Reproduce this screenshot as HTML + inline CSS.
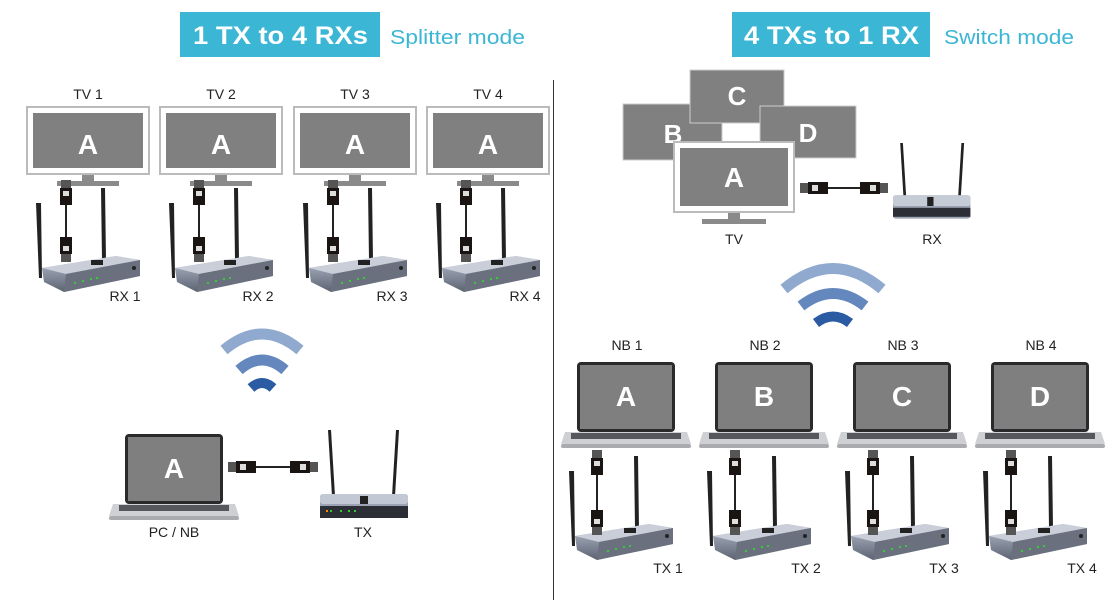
<!DOCTYPE html>
<html><head><meta charset="utf-8"><style>
body{margin:0;width:1110px;height:600px;background:#fff;overflow:hidden;font-family:"Liberation Sans",sans-serif}
svg text{font-family:"Liberation Sans",sans-serif}
</style></head><body>
<svg width="1110" height="600" viewBox="0 0 1110 600" xmlns="http://www.w3.org/2000/svg">
<defs>
<linearGradient id="rb" x1="0" y1="0" x2="0" y2="1"><stop offset="0" stop-color="#b8bfcc"/><stop offset="0.5" stop-color="#8a92a2"/><stop offset="1" stop-color="#5c6270"/></linearGradient>
<g id="plugV"><rect x="-5" y="0" width="10" height="8" fill="#555"/><rect x="-6" y="8" width="12" height="17" fill="#1a1412"/><rect x="-3" y="11" width="6" height="5" fill="#ddd"/></g>
<g id="plugH"><rect x="0" y="-5" width="8" height="10" fill="#555"/><rect x="8" y="-6" width="20" height="12" fill="#1a1412"/><rect x="12" y="-3" width="6" height="6" fill="#ddd"/></g>
<g id="router">
<path d="M0 5 L3 80 L6 80 L5 5 Z" fill="#222"/>
<path d="M65 -10 L66 62 L70 62 L69 -10 Z" fill="#222"/>
<path d="M6 70 L80 58 L104 62 L104 78 L28 94 L8 84 Z" fill="url(#rb)"/>
<path d="M6 70 L80 58 L104 62 L30 76 Z" fill="#c9ced8"/>
<path d="M30 76 L104 62 L104 78 L28 94 Z" fill="#6a707e"/>
<rect x="55" y="62" width="12" height="5" fill="#222"/>
<g fill="#3c3"><rect x="38" y="84" width="2" height="2"/><rect x="46" y="82" width="2" height="2"/><rect x="54" y="80" width="2" height="2"/><rect x="60" y="79" width="2" height="2"/></g>
<circle cx="98" cy="70" r="2" fill="#222"/>
</g>
<g id="frouter">
<path d="M8 0 L12 66 L15 66 L11 0 Z" fill="#222"/>
<path d="M76 0 L72 66 L75 66 L79 0 Z" fill="#222"/>
<rect x="0" y="64" width="88" height="24" rx="3" fill="#9ca4b4"/>
<rect x="0" y="64" width="88" height="10" rx="3" fill="#c3c9d4"/>
<rect x="0" y="76" width="88" height="12" fill="#2c2f36"/>
<rect x="40" y="66" width="8" height="8" fill="#222"/>
<g fill="#3c3"><rect x="10" y="80" width="2" height="2"/><rect x="20" y="80" width="2" height="2"/><rect x="28" y="80" width="2" height="2"/><rect x="34" y="80" width="2" height="2"/></g>
<rect x="6" y="80" width="2" height="2" fill="#f80"/>
</g>
<g id="tv">
<rect x="0" y="0" width="122" height="67" fill="#fff" stroke="#bbb" stroke-width="2"/>
<rect x="6" y="6" width="110" height="55" fill="#808080"/>
<rect x="55" y="68" width="12" height="6" fill="#8a8a8a"/>
<rect x="30" y="74" width="62" height="5" fill="#8a8a8a"/>
</g>
<g id="laptop">
<rect x="0" y="0" width="98" height="70" rx="4" fill="#2a2a2c"/>
<rect x="3" y="3" width="92" height="64" fill="#7f7f7f"/>
<path d="M-12 70 L110 70 L114 82 L-16 82 Z" fill="#cfd0d3"/>
<rect x="-6" y="71" width="110" height="6" fill="#55575c"/>
<rect x="-16" y="82" width="130" height="4" rx="2" fill="#a9abaf"/>
</g>
</defs>

<rect x="180" y="12" width="200" height="45" fill="#3bb6d5"/>
<text x="193" y="44" fill="#fff" font-size="25" font-weight="bold" textLength="175" lengthAdjust="spacingAndGlyphs">1 TX to 4 RXs</text>
<text x="390" y="44" fill="#3bb6d5" font-size="20" textLength="135" lengthAdjust="spacingAndGlyphs">Splitter mode</text>
<rect x="732" y="12" width="198" height="45" fill="#3bb6d5"/>
<text x="744" y="44" fill="#fff" font-size="25" font-weight="bold" textLength="175" lengthAdjust="spacingAndGlyphs">4 TXs to 1 RX</text>
<text x="944" y="44" fill="#3bb6d5" font-size="20" textLength="130" lengthAdjust="spacingAndGlyphs">Switch mode</text>

<line x1="553.5" y1="80" x2="553.5" y2="600" stroke="#333" stroke-width="1"/>

<g font-size="14" fill="#222" text-anchor="middle">
<g><use href="#tv" x="27" y="107"/><text x="88" y="99">TV 1</text><text x="88" y="154" fill="#fff" font-size="28" font-weight="bold">A</text><use href="#router" x="36" y="198"/><line x1="66" y1="205" x2="66" y2="240" stroke="#222" stroke-width="2"/><use href="#plugV" x="66" y="180"/><use href="#plugV" x="66" y="262" transform="rotate(180 66 262)"/><text x="125" y="301">RX 1</text></g>
<g transform="translate(133 0)"><use href="#tv" x="27" y="107"/><text x="88" y="99">TV 2</text><text x="88" y="154" fill="#fff" font-size="28" font-weight="bold">A</text><use href="#router" x="36" y="198"/><line x1="66" y1="205" x2="66" y2="240" stroke="#222" stroke-width="2"/><use href="#plugV" x="66" y="180"/><use href="#plugV" x="66" y="262" transform="rotate(180 66 262)"/><text x="125" y="301">RX 2</text></g>
<g transform="translate(267 0)"><use href="#tv" x="27" y="107"/><text x="88" y="99">TV 3</text><text x="88" y="154" fill="#fff" font-size="28" font-weight="bold">A</text><use href="#router" x="36" y="198"/><line x1="66" y1="205" x2="66" y2="240" stroke="#222" stroke-width="2"/><use href="#plugV" x="66" y="180"/><use href="#plugV" x="66" y="262" transform="rotate(180 66 262)"/><text x="125" y="301">RX 3</text></g>
<g transform="translate(400 0)"><use href="#tv" x="27" y="107"/><text x="88" y="99">TV 4</text><text x="88" y="154" fill="#fff" font-size="28" font-weight="bold">A</text><use href="#router" x="36" y="198"/><line x1="66" y1="205" x2="66" y2="240" stroke="#222" stroke-width="2"/><use href="#plugV" x="66" y="180"/><use href="#plugV" x="66" y="262" transform="rotate(180 66 262)"/><text x="125" y="301">RX 4</text></g>

<g fill="none">
<path d="M224 350 Q262 318 300 350" stroke="#8fa9cf" stroke-width="11"/>
<path d="M239 370 Q262 350 285 370" stroke="#6488bd" stroke-width="11"/>
<path d="M251 388 Q262 378 273 388" stroke="#2a5ba3" stroke-width="10"/>
</g>

<use href="#laptop" x="125" y="434"/>
<text x="174" y="478" fill="#fff" font-size="28" font-weight="bold">A</text>
<text x="174" y="537">PC / NB</text>
<line x1="255" y1="467" x2="295" y2="467" stroke="#222" stroke-width="2"/>
<use href="#plugH" x="228" y="467"/>
<use href="#plugH" x="318" y="467" transform="rotate(180 318 467)"/>
<use href="#frouter" x="320" y="430"/>
<text x="363" y="537">TX</text>

<rect x="623" y="104" width="99" height="56" fill="#808080" stroke="#ccc"/>
<text x="673" y="143" fill="#fff" font-size="26" font-weight="bold">B</text>
<rect x="690" y="70" width="94" height="53" fill="#808080" stroke="#ccc"/>
<text x="737" y="105" fill="#fff" font-size="26" font-weight="bold">C</text>
<rect x="760" y="106" width="96" height="52" fill="#808080" stroke="#ccc"/>
<text x="808" y="142" fill="#fff" font-size="26" font-weight="bold">D</text>
<rect x="674" y="142" width="120" height="70" fill="#fff" stroke="#bbb" stroke-width="2"/>
<rect x="680" y="148" width="108" height="58" fill="#808080"/>
<text x="734" y="187" fill="#fff" font-size="28" font-weight="bold">A</text>
<rect x="728" y="213" width="12" height="6" fill="#8a8a8a"/>
<rect x="702" y="219" width="64" height="5" fill="#8a8a8a"/>
<text x="734" y="244">TV</text>
<line x1="825" y1="188" x2="865" y2="188" stroke="#222" stroke-width="2"/>
<use href="#plugH" x="800" y="188"/>
<use href="#plugH" x="888" y="188" transform="rotate(180 888 188)"/>
<g transform="translate(893 143) scale(0.9 0.9)"><path d="M8 0 L12 66 L15 66 L11 0 Z" fill="#222"/><path d="M76 0 L72 66 L75 66 L79 0 Z" fill="#222"/><rect x="0" y="58" width="86" height="26" rx="3" fill="#9ca4b4"/><rect x="0" y="58" width="86" height="12" rx="3" fill="#c6ccd6"/><rect x="0" y="72" width="86" height="10" fill="#2c2f36"/><rect x="38" y="60" width="7" height="10" fill="#222"/></g>
<text x="932" y="244">RX</text>

<g fill="none">
<path d="M784 289 Q833 248 882 289" stroke="#8fa9cf" stroke-width="11"/>
<path d="M801 306 Q833 281 865 306" stroke="#6488bd" stroke-width="11"/>
<path d="M816 323 Q833 310 850 323" stroke="#2a5ba3" stroke-width="10"/>
</g>

<g><text x="627" y="350">NB 1</text><use href="#laptop" x="577" y="362"/><text x="626" y="406" fill="#fff" font-size="28" font-weight="bold">A</text><use href="#router" x="569" y="466"/><line x1="597" y1="475" x2="597" y2="510" stroke="#222" stroke-width="2"/><use href="#plugV" x="597" y="450"/><use href="#plugV" x="597" y="535" transform="rotate(180 597 535)"/><text x="668" y="573">TX 1</text></g>
<g transform="translate(138 0)"><text x="627" y="350">NB 2</text><use href="#laptop" x="577" y="362"/><text x="626" y="406" fill="#fff" font-size="28" font-weight="bold">B</text><use href="#router" x="569" y="466"/><line x1="597" y1="475" x2="597" y2="510" stroke="#222" stroke-width="2"/><use href="#plugV" x="597" y="450"/><use href="#plugV" x="597" y="535" transform="rotate(180 597 535)"/><text x="668" y="573">TX 2</text></g>
<g transform="translate(276 0)"><text x="627" y="350">NB 3</text><use href="#laptop" x="577" y="362"/><text x="626" y="406" fill="#fff" font-size="28" font-weight="bold">C</text><use href="#router" x="569" y="466"/><line x1="597" y1="475" x2="597" y2="510" stroke="#222" stroke-width="2"/><use href="#plugV" x="597" y="450"/><use href="#plugV" x="597" y="535" transform="rotate(180 597 535)"/><text x="668" y="573">TX 3</text></g>
<g transform="translate(414 0)"><text x="627" y="350">NB 4</text><use href="#laptop" x="577" y="362"/><text x="626" y="406" fill="#fff" font-size="28" font-weight="bold">D</text><use href="#router" x="569" y="466"/><line x1="597" y1="475" x2="597" y2="510" stroke="#222" stroke-width="2"/><use href="#plugV" x="597" y="450"/><use href="#plugV" x="597" y="535" transform="rotate(180 597 535)"/><text x="668" y="573">TX 4</text></g>
</g>
</svg>
</body></html>
